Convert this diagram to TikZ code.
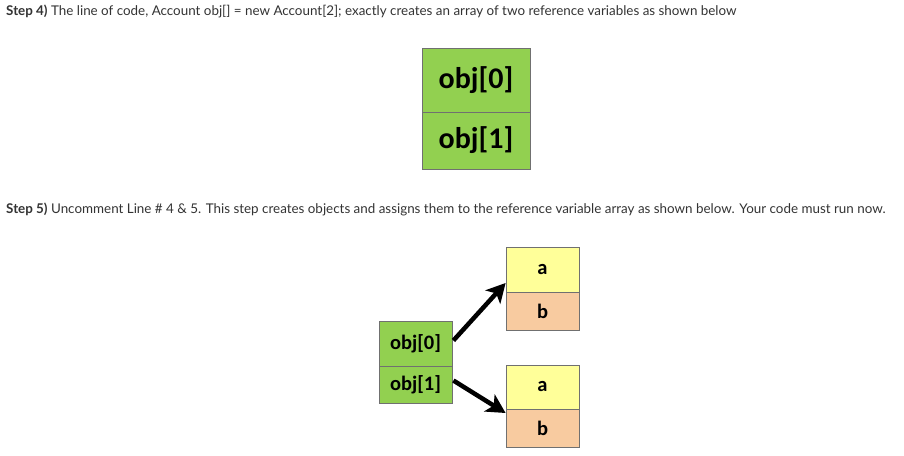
\documentclass[tikz,border=0pt]{standalone}
\usepackage{fontspec}
\setmainfont{Lato}
\newfontfamily\calib{Carlito}
\usetikzlibrary{arrows.meta}
\definecolor{txt}{HTML}{333333}
\definecolor{grn}{HTML}{92D050}
\definecolor{ylw}{HTML}{FFFF99}
\definecolor{peach}{HTML}{F8CBA0}
\definecolor{edge}{HTML}{707070}
\tikzset{
  para/.style={anchor=base west, inner sep=0pt, text=txt, font=\fontsize{13.4}{16}\selectfont},
  cell/.style={draw=edge, line width=0.8pt, inner sep=0pt, font=\calib\bfseries\fontsize{20.5}{24}\selectfont, text=black},
  bigcell/.style={cell, fill=grn, minimum width=108pt, font=\calib\bfseries\fontsize{30}{36}\selectfont},
  gcell/.style={cell, fill=grn, minimum width=73pt, minimum height=45pt},
  ycell/.style={cell, fill=ylw, minimum width=73pt, minimum height=45pt},
  pcell/.style={cell, fill=peach, minimum width=73pt, minimum height=38pt},
  ptr/.style={line width=4.5pt, -{Stealth[length=19pt,width=20pt,inset=5pt]}}
}
\begin{document}
\begin{tikzpicture}[x=1pt,y=-1pt]
\useasboundingbox (0,0) rectangle (904,455);
\node[para] (t1) at (6,15) {\textbf{Step 4)} The line of code, Account obj[] = new Account[2]; exactly creates an array of two reference variables as shown below};
\node[bigcell, minimum height=64pt] (a0) at (476,80) {obj[0]};
\node[bigcell, minimum height=57pt] (a1) at (476,140.5) {obj[1]};
\node[para] (t2) at (6,213) {\textbf{Step 5)} Uncomment Line \# 4 \& 5. This step creates objects and assigns them to the reference variable array as shown below. Your code must run now.};
\node[gcell] (b0) at (415.5,343.5) {obj[0]};
\node[gcell, minimum height=37pt] (b1) at (415.5,384.5) {obj[1]};
\node[ycell] (y0) at (542.5,269.5) {a};
\node[pcell] (p0) at (542.5,311) {b};
\node[ycell, minimum height=44pt] (y1) at (542.5,387) {a};
\node[pcell] (p1) at (542.5,428) {b};
\draw[ptr] (b0.east) ++(1,-3) coordinate (s0) -- (y0.south west |- 0,283);
\draw[ptr] (b1.east) ++(1,-4) coordinate (s1) -- (y1.south west |- 0,413);
\end{tikzpicture}
\end{document}
